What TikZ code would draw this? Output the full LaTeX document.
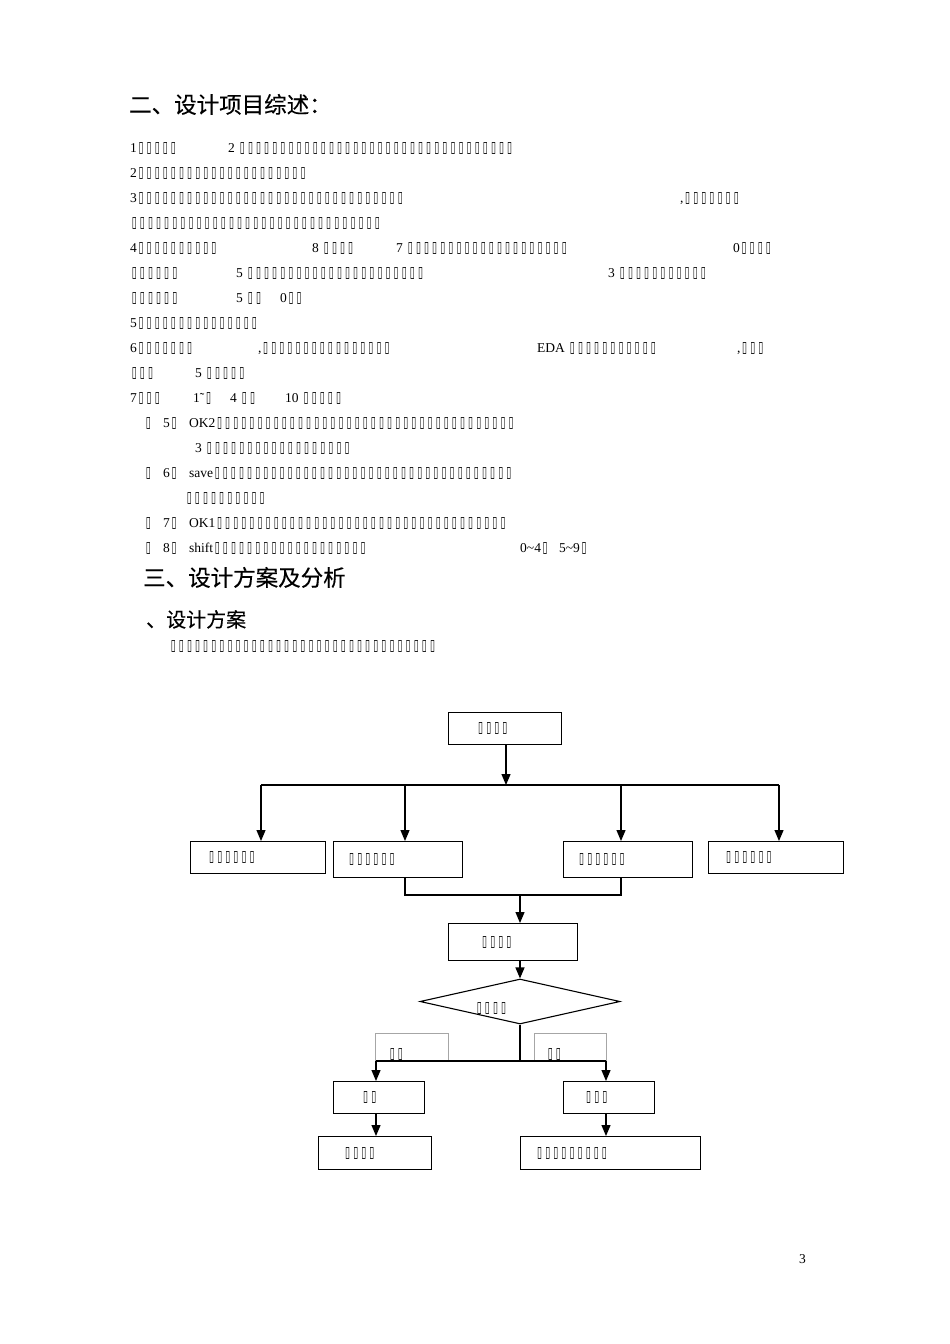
\documentclass[tikz,border=0pt]{standalone}
\usepackage{fontspec}
\usepackage{graphicx}
\usetikzlibrary{arrows.meta,shapes.geometric}
\setmainfont{Liberation Serif}
\newfontfamily\dejavu{DejaVu Sans}
\newfontfamily\cjk{Noto Sans CJK SC}[FakeBold=0.3]
\newcommand\tf{\makebox[8.1pt][l]{\hspace{1.6pt}\resizebox{5pt}{10pt}{\dejavu\bfseries ▯}}}
\ExplSyntaxOn
\NewDocumentCommand\tfs{m}{\prg_replicate:nn{#1}{\tf}}
\ExplSyntaxOff
\tikzset{
  txt/.style={anchor=base west, inner sep=0pt, font=\fontsize{13.5}{13.5}\selectfont},
  hd/.style={anchor=base west, inner sep=0pt},
  fbox/.style={draw, line width=1.1pt, anchor=north west, align=left, inner ysep=0pt, font=\fontsize{13}{13}\selectfont},
  gbox/.style={draw=black!35, line width=0.8pt, anchor=north west, inner sep=0pt},
  ln/.style={line width=1.2pt},
  arr/.style={line width=1.2pt, -{Triangle[length=11pt,width=9pt]}},
}
\begin{document}
\begin{tikzpicture}[x=1pt,y=-1pt]
\fill[white] (0,0) rectangle (950,1344);
\useasboundingbox (0,0) rectangle (950,1344);

% headings
\node[hd, font=\cjk\fontsize{22.5}{22.5}\selectfont] (h1) at (129,113) {二、设计项目综述：};
\node[hd, font=\cjk\fontsize{22.5}{22.5}\selectfont] (h2) at (143,586) {三、设计方案及分析};
\node[hd, font=\cjk\fontsize{20}{20}\selectfont] (h3) at (146,627) {、设计方案};

% body text
\node[txt] (l1a) at (130,152) {1\tfs{5}};
\node[txt] (l1b) at (228,152) {2 \tfs{34}};
\node[txt] (l2a) at (130,177) {2\tfs{21}};
\node[txt] (l3a) at (130,202) {3\tfs{33}};
\node[txt] (l3b) at (680,202) {,\tfs{7}};
\node[txt] (l4a) at (130,227) {\tfs{31}};
\node[txt] (l5a) at (130,252) {4\tfs{10}};
\node[txt] (l5b) at (312,252) {8 \tfs{4}};
\node[txt] (l5c) at (396,252) {7 \tfs{20}};
\node[txt] (l5d) at (733,252) {0\tfs{4}};
\node[txt] (l6a) at (130,277) {\tfs{6}};
\node[txt] (l6b) at (236,277) {5 \tfs{22}};
\node[txt] (l6c) at (608,277) {3 \tfs{11}};
\node[txt] (l7a) at (130,302) {\tfs{6}};
\node[txt] (l7b) at (236,302) {5 \tfs{2}};
\node[txt] (l7c) at (280,302) {0\tfs{2}};
\node[txt] (l8a) at (130,327) {5\tfs{15}};
\node[txt] (l9a) at (130,352) {6\tfs{7}};
\node[txt] (l9b) at (258,352) {,\tfs{16}};
\node[txt] (l9c) at (537,352) {EDA \tfs{11}};
\node[txt] (l9d) at (737,352) {,\tfs{3}};
\node[txt] (l10a) at (130,377) {\tfs{3}};
\node[txt] (l10b) at (195,377) {5 \tfs{5}};
\node[txt] (l11a) at (130,402) {7\tfs{3}};
\node[txt] (l11b) at (193,402) {1˜\tf};
\node[txt] (l11c) at (230,402) {4 \tfs{2}};
\node[txt] (l11d) at (285,402) {10 \tfs{5}};
\node[txt] (l12a) at (144,427) {\tf};
\node[txt] (l12b) at (163,427) {5\tf};
\node[txt] (l12c) at (189,427) {OK2\tfs{37}};
\node[txt] (l13a) at (195,452) {3 \tfs{18}};
\node[txt] (l14a) at (144,477) {\tf};
\node[txt] (l14b) at (163,477) {6\tf};
\node[txt] (l14c) at (189,477) {save\tfs{37}};
\node[txt] (l15a) at (185,502) {\tfs{10}};
\node[txt] (l16a) at (144,527) {\tf};
\node[txt] (l16b) at (163,527) {7\tf};
\node[txt] (l16c) at (189,527) {OK1\tfs{36}};
\node[txt] (l17a) at (144,552) {\tf};
\node[txt] (l17b) at (163,552) {8\tf};
\node[txt] (l17c) at (189,552) {shift\tfs{19}};
\node[txt] (l17d) at (520,552) {0\textasciitilde 4\tf\hspace{10pt}5\textasciitilde 9\tf};
\node[txt] (l18a) at (169,650) {\tfs{33}};

% flowchart
\node[fbox, minimum height=32pt, text width=57pt, inner xsep=28pt] (T) at (448,712) {\raisebox{-2pt}{\tfs{4}}};
\node[fbox, minimum height=32pt, text width=101pt, inner xsep=17pt] (B1) at (190,841) {\raisebox{-2pt}{\tfs{6}}};
\node[fbox, minimum height=36pt, text width=101pt, inner xsep=14pt] (B2) at (333,841) {\tfs{6}};
\node[fbox, minimum height=36pt, text width=101pt, inner xsep=14pt] (B3) at (563,841) {\tfs{6}};
\node[fbox, minimum height=32pt, text width=103pt, inner xsep=16pt] (B4) at (708,841) {\raisebox{-2pt}{\tfs{6}}};
\node[fbox, minimum height=37pt, text width=65pt, inner xsep=32pt] (P) at (448,923) {\tfs{4}};
\node[draw, line width=1.1pt, diamond, aspect=4.4, minimum width=200pt, minimum height=45pt, inner sep=0pt] (D) at (520,1001.5) {};
\node[txt] (Dt) at (475,1012) {\tfs{4}};

\node[gbox, minimum width=73pt, minimum height=28pt] (G1) at (375,1033) {};
\node[gbox, minimum width=72pt, minimum height=28pt] (G2) at (534,1033) {};
\node[txt] (G1t) at (388,1058) {\tfs{2}};
\node[txt] (G2t) at (546,1058) {\tfs{2}};

\node[fbox, minimum height=32pt, text width=35pt, inner xsep=28pt] (Y) at (333,1081) {\tfs{2}};
\node[fbox, minimum height=32pt, text width=49pt, inner xsep=21pt] (N) at (563,1081) {\tfs{3}};
\node[fbox, minimum height=33pt, text width=63pt, inner xsep=25pt] (E1) at (318,1136) {\tfs{4}};
\node[fbox, minimum height=33pt, text width=150pt, inner xsep=15pt] (E2) at (520,1136) {\tfs{9}};

\coordinate (h) at (506,785);
\coordinate (hl) at (261,785);
\coordinate (hr) at (779,785);
\coordinate (a2) at (405,785);
\coordinate (a3) at (621,785);
\draw[arr] (h |- T.south) -- (h);
\draw[ln] (hl) -- (hr);
\draw[arr] (hl) -- (hl |- B1.north);
\draw[arr] (a2) -- (a2 |- B2.north);
\draw[arr] (a3) -- (a3 |- B3.north);
\draw[arr] (hr) -- (hr |- B4.north);

\coordinate (m2) at (405,895);
\coordinate (m3) at (621,895);
\coordinate (m) at (520,895);
\draw[ln] (m2 |- B2.south) -- (m2) -- (m3) -- (m3 |- B3.south);
\draw[arr] (m) -- (m |- P.north);
\draw[arr] (m |- P.south) -- (D.north);

\coordinate (s) at (520,1061);
\coordinate (sl) at (376,1061);
\coordinate (sr) at (606,1061);
\draw[ln] (D.south) -- (s);
\draw[ln] (sl) -- (sr);
\draw[arr] (sl) -- (sl |- Y.north);
\draw[arr] (sr) -- (sr |- N.north);
\draw[arr] (sl |- Y.south) -- (sl |- E1.north);
\draw[arr] (sr |- N.south) -- (sr |- E2.north);

\node[txt] (pg) at (799,1263) {3};
\end{tikzpicture}
\end{document}
